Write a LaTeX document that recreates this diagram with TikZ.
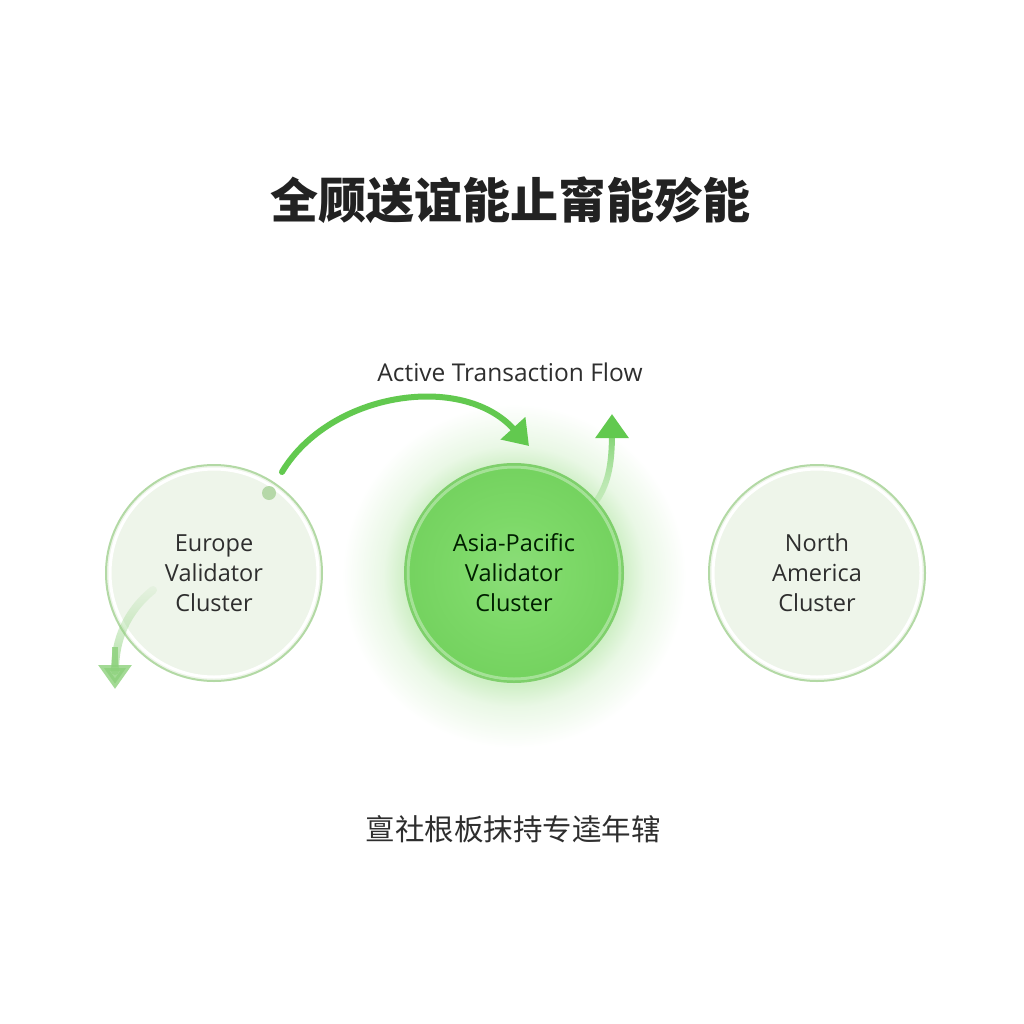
\documentclass[tikz,border=0pt]{standalone}
\usepackage{fontspec}
\setmainfont{Open Sans}
\newfontfamily\cjk{Noto Sans CJK SC}
\usetikzlibrary{arrows.meta,fadings,calc}
\definecolor{titlec}{HTML}{222222}
\definecolor{textc}{HTML}{2E2E2E}
\definecolor{palefill}{HTML}{EEF5EA}
\definecolor{palestroke}{HTML}{B3D9A5}
\definecolor{hotfill}{HTML}{7DD968}
\definecolor{hotedge}{HTML}{74D25F}
\definecolor{hotstroke}{HTML}{7FCF6C}
\definecolor{flowc}{HTML}{62C94F}
\definecolor{fadec}{HTML}{8CD17B}
\definecolor{dotc}{HTML}{B5D8A8}
\definecolor{glowc}{HTML}{CFEFC6}
\pgfdeclareradialshading{glowshade}{\pgfpoint{0bp}{0bp}}{color(0bp)=(glowc); color(15.8bp)=(glowc); color(19bp)=(glowc!45!white); color(25bp)=(white); color(50bp)=(white)}
\pgfdeclareradialshading{hotshade}{\pgfpoint{0bp}{0bp}}{color(0bp)=(hotfill!88!white); color(12bp)=(hotfill); color(25bp)=(hotedge); color(50bp)=(hotedge)}
\tikzfading[name=fadeup, top color=transparent!0, bottom color=transparent!85]
\tikzfading[name=fadedown, top color=transparent!92, bottom color=transparent!20]
\tikzset{
  cluster/.style={circle, minimum size=216pt, inner sep=0pt, align=center,
    font=\fontsize{23.5}{30}\selectfont, text=textc},
  pale/.style={cluster, fill=palefill},
  flow/.style={line width=6pt, draw=flowc, line cap=round},
  tipped/.style={-{Triangle[length=24pt,width=32pt]}},
}
\begin{document}
\begin{tikzpicture}[x=1pt,y=-1pt]
\useasboundingbox[fill=white] (0,0) rectangle (1024,1024);

% title
\node[font=\cjk\bfseries\fontsize{48}{52}\selectfont, text=titlec] (title) at (510,200) {全顾送谊能止甯能殄能};

% glow behind Asia-Pacific
\shade[shading=glowshade] (514,576) circle[radius=172];

% clusters
\node[pale] (eu) at (214,573) {Europe\\Validator\\Cluster};
\draw[white, line width=3pt] (eu.center) circle[radius=104];
\draw[palestroke, line width=2pt] (eu.center) circle[radius=108];

\node[pale] (na) at (817,573) {North\\America\\Cluster};
\draw[white, line width=3pt] (na.center) circle[radius=104];
\draw[palestroke, line width=2pt] (na.center) circle[radius=108];

\shade[shading=hotshade] (514,573) circle[radius=109];
\draw[white, opacity=0.35, line width=3pt] (514,573) circle[radius=106];
\draw[hotstroke, line width=2pt] (514,573) circle[radius=109];
\node[cluster, text=black!80!green!60!black] (ap) at (514,573) {Asia-Pacific\\Validator\\Cluster};

% label
\node[font=\fontsize{24.5}{28}\selectfont, text=textc] (lbl) at (510,372) {Active Transaction Flow};

% connectors
\coordinate (a1s) at (282,472);
\coordinate (a1e) at (529,446);
\draw[flow, tipped] (a1s) .. controls (330,392) and (462,372) .. (a1e);

\fill[dotc] (269,493) circle[radius=7];

\coordinate (a2s) at (597,500);
\coordinate (a2e) at (612,414);
\coordinate (a2b) at (612,436);
\draw[flow, path fading=fadeup, shorten >=18pt] (a2s) .. controls (609,482) and (612,462) .. (a2e);
\draw[flow, tipped, line cap=butt] (a2b) -- (a2e);

\coordinate (a3s) at (153,590);
\coordinate (a3e) at (115,689);
\coordinate (a3b) at (115,667);
\draw[flow, line width=8pt, draw=fadec, path fading=fadedown, shorten >=18pt] (a3s) .. controls (126,612) and (115,640) .. (a3e);
\draw[flow, tipped, draw=fadec, fill=fadec, opacity=0.8, line cap=butt, shorten <=20pt] (a3b) -- (a3e);

% bottom caption
\node[font=\cjk\fontsize{29.5}{32}\selectfont, text=textc] (cap) at (513,829) {亶社根板抹持专逵年辖};
\end{tikzpicture}
\end{document}
